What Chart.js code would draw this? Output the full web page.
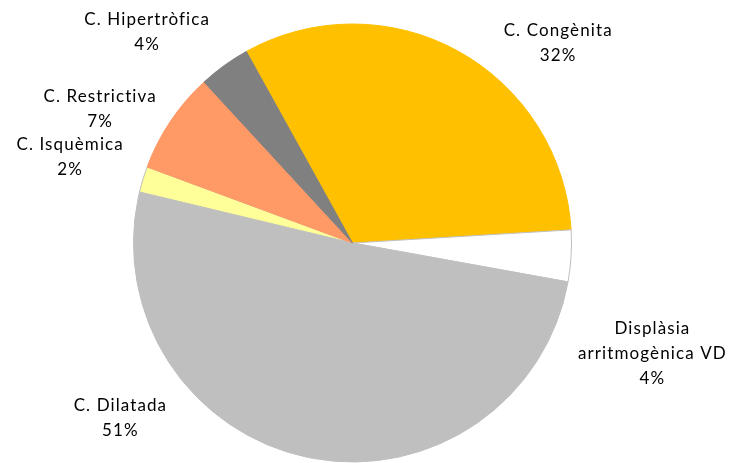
<!DOCTYPE html>
<html>
<head>
<meta charset="utf-8">
<script src="https://cdn.jsdelivr.net/npm/chart.js@4/dist/chart.umd.min.js"></script>
<style>
  html, body { margin: 0; padding: 0; background: #fff; }
  #wrap { width: 729px; height: 463px; position: relative; }
</style>
</head>
<body>
<div id="wrap"><canvas id="c" width="729" height="463"></canvas></div>
<script>
// ---- data ----
const categories = ["C. Congènita", "Displàsia\narritmogènica VD", "C. Dilatada", "C. Isquèmica", "C. Restrictiva", "C. Hipertròfica"];
const sliceValues = [32.1, 3.8, 50.9, 1.9, 7.5, 3.8];   // slice sizes (%)
const percentLabels = ["32%", "4%", "51%", "2%", "7%", "4%"]; // labels as printed

// ---- styling ----
const fillColors = ["#FFC000", "#FFFFFF", "#BFBFBF", "#FFFF99", "#FF9966", "#808080"];
const edgeColors = ["#FFC000", "#BFBFBF", "#BFBFBF", "#BFBFBF", "#FF9966", "#808080"];
// label placement relative to each slice: [angle (deg clockwise from top), distance in radii]
const labelPlacement = [[45.8, 1.31], [110.3, 1.46], [233, 1.327], [287, 1.348], [298, 1.305], [315.8, 1.345]];

const labelPlugin = {
  id: 'sliceLabels',
  afterDatasetsDraw(chart) {
    const ctx = chart.ctx;
    const meta = chart.getDatasetMeta(0);
    ctx.save();
    ctx.font = '17px Lato';
    ctx.letterSpacing = '1.1px';
    ctx.fillStyle = '#000';
    ctx.textAlign = 'center';
    ctx.textBaseline = 'middle';
    meta.data.forEach((arc, i) => {
      const p = arc.getProps(['x', 'y', 'outerRadius'], true);
      const [deg, k] = labelPlacement[i];
      const a = (deg - 90) * Math.PI / 180;
      const cx = p.x + Math.cos(a) * p.outerRadius * k;
      const cy = p.y + Math.sin(a) * p.outerRadius * k;
      const lines = categories[i].split('\n').concat([percentLabels[i]]);
      const lh = 25;
      const y0 = cy - (lines.length - 1) * lh / 2;
      lines.forEach((t, j) => ctx.fillText(t, cx, y0 + j * lh));
    });
    ctx.restore();
  }
};

new Chart(document.getElementById('c'), {
  type: 'pie',
  data: {
    labels: categories,
    datasets: [{
      data: sliceValues,
      backgroundColor: fillColors,
      borderColor: edgeColors,
      borderWidth: 1
    }]
  },
  options: {
    responsive: false,
    animation: false,
    rotation: -29,
    layout: { padding: { left: 133, right: 157, top: 23, bottom: 0 } },
    plugins: { legend: { display: false }, tooltip: { enabled: false } }
  },
  plugins: [labelPlugin]
});
</script>
</body>
</html>
